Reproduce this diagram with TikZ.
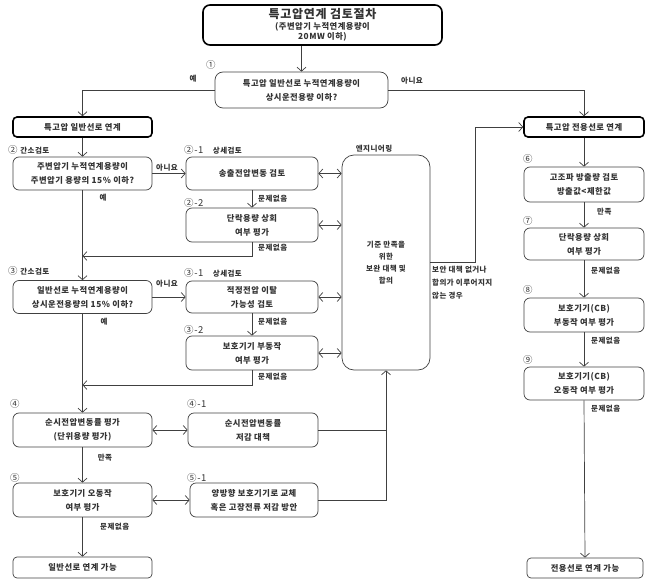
\documentclass[tikz,border=0pt]{standalone}
\usepackage{fontspec}
\setmainfont{Noto Sans CJK KR}[LetterSpace=6]
\usetikzlibrary{arrows.meta}
\begin{document}
\begin{tikzpicture}[x=1pt,y=-1pt,
 every node/.style={inner sep=0pt, text=black!80},
 box/.style={draw=black!75, line width=0.7pt, rounded corners=6pt, align=center, font=\fontsize{8.3}{14}\selectfont\bfseries},
 tbox/.style={box, draw=black, line width=1.6pt},
 lbl/.style={font=\fontsize{7.5}{9}\selectfont\bfseries},
 lbll/.style={lbl, anchor=west},
 num/.style={font=\fontsize{9.5}{10}\selectfont, anchor=west},
 conn/.style={draw=black!75, line width=0.7pt},
 arr/.style={conn, -{Straight Barb[length=4pt,width=9pt]}},
 darr/.style={conn, {Straight Barb[length=4pt,width=9pt]}-{Straight Barb[length=4pt,width=9pt]}},
]
\useasboundingbox (0,0) rectangle (650,580);

% nodes
\node[tbox, minimum width=239pt, minimum height=40pt, rounded corners=7pt, font=\fontsize{8.3}{10}\selectfont\bfseries] (title) at (322.5,25)
  {{\fontsize{12}{14}\selectfont 특고압연계 검토절차}\\[1pt](주변압기 누적연계용량이\\20MW 이하)};
\node[box, minimum width=173pt, minimum height=36pt, rounded corners=8pt] (d1) at (301.5,90) {특고압 일반선로 누적연계용량이\\상시운전용량 이하?};
\node[tbox, minimum width=139pt, minimum height=20pt, rounded corners=4pt] (gen) at (82.5,127) {특고압 일반선로 연계};
\node[tbox, minimum width=120pt, minimum height=20pt, rounded corners=4pt] (ded) at (584,127) {특고압 전용선로 연계};

\node[box, minimum width=139pt, minimum height=33pt] (b2) at (82.5,173.5) {주변압기 누적연계용량이\\주변압기 용량의 15\% 이하?};
\node[box, minimum width=132pt, minimum height=33pt] (b21) at (252,173.5) {송출전압변동 검토};
\node[box, minimum width=132pt, minimum height=34pt] (b22) at (252,225) {단락용량 상회\\여부 평가};

\node[box, minimum width=88pt, minimum height=215pt, rounded corners=12pt, font=\fontsize{7.5}{12}\selectfont\bfseries] (eng) at (386,262.5) {기준 만족을\\위한\\보완 대책 및\\합의};

\node[box, minimum width=139pt, minimum height=33pt] (b3) at (82.5,297) {일반선로 누적연계용량이\\상시운전용량의 15\% 이하?};
\node[box, minimum width=132pt, minimum height=32pt] (b31) at (252,297) {적정전압 이탈\\가능성 검토};
\node[box, minimum width=132pt, minimum height=34pt] (b32) at (252,353) {보호기기 부동작\\여부 평가};

\node[box, minimum width=139pt, minimum height=34pt] (b4) at (82.5,430) {순시전압변동률 평가\\(단위용량 평가)};
\node[box, minimum width=130pt, minimum height=34pt] (b41) at (253,430) {순시전압변동률\\저감 대책};
\node[box, minimum width=139pt, minimum height=34pt] (b5) at (82.5,500) {보호기기 오동작\\여부 평가};
\node[box, minimum width=128pt, minimum height=34pt] (b51) at (254,500) {양방향 보호기기로 교체\\혹은 고장전류 저감 방안};
\node[box, minimum width=139pt, minimum height=21pt, rounded corners=4pt] (endL) at (82.5,567.5) {일반선로 연계 가능};

\node[box, minimum width=120pt, minimum height=35pt] (b6) at (584,184.5) {고조파 방출량 검토\\방출값<제한값};
\node[box, minimum width=120pt, minimum height=32pt] (b7) at (584,244) {단락용량 상회\\여부 평가};
\node[box, minimum width=120pt, minimum height=34pt] (b8) at (584,315) {보호기기(CB)\\부동작 여부 평가};
\node[box, minimum width=120pt, minimum height=33pt] (b9) at (584,383.5) {보호기기(CB)\\오동작 여부 평가};
\node[box, minimum width=116pt, minimum height=20pt, rounded corners=4pt] (endR) at (585,568) {전용선로 연계 가능};

% number / header labels
\node[num] (n1) at (206,65) {①};
\node[num] (n2) at (8,150) {② {\fontsize{7.5}{9}\selectfont\bfseries 간소검토}};
\node[num] (n21) at (184,150) {②-1\quad{\fontsize{7.5}{9}\selectfont\bfseries 상세검토}};
\node[num] (n22) at (184,203) {②-2};
\node[num] (n3) at (8,271) {③ {\fontsize{7.5}{9}\selectfont\bfseries 간소검토}};
\node[num] (n31) at (184,273) {③-1\quad{\fontsize{7.5}{9}\selectfont\bfseries 상세검토}};
\node[num] (n32) at (184,330) {③-2};
\node[num] (n4) at (10,404) {④};
\node[num] (n41) at (187,404) {④-1};
\node[num] (n5) at (10,478) {⑤};
\node[num] (n51) at (187,478) {⑤-1};
\node[num] (n6) at (523,159) {⑥};
\node[num] (n7) at (523,221) {⑦};
\node[num] (n8) at (523,290) {⑧};
\node[num] (n9) at (523,360) {⑨};
\node[lbl] (englbl) at (374,149) {엔지니어링};

% connectors
\draw[arr] (d1.north |- title.south) -- (d1.north);
\draw[arr] (d1.west) -| (gen.north);
\node[lbl] (yes1) at (193,79) {예};
\draw[arr] (d1.east) -| (ded.north);
\node[lbl] (no1) at (412,81) {아니요};

\draw[arr] (gen.south) -- (b2.north);
\draw[arr] (b2.east) -- (b21.west);
\node[lbl] (no2) at (167,168) {아니요};
\node[lbl] (yes2) at (103,198) {예};
\draw[arr] (b21.south) -- (b22.north);
\node[lbll] (ok21) at (258,199) {문제없음};
\coordinate (m2) at (82.5,256);
\draw[arr] (b22.south) |- (m2);
\node[lbll] (ok22) at (258,248) {문제없음};
\draw[arr] (b2.south) -- (b3.north);

\draw[arr] (b3.east) -- (b31.west);
\node[lbl] (no3) at (167,284) {아니요};
\node[lbl] (yes3) at (104,322) {예};
\draw[arr] (b31.south) -- (b32.north);
\node[lbll] (ok31) at (258,322) {문제없음};
\coordinate (m3) at (82.5,385);
\draw[arr] (b32.south) |- (m3);
\node[lbll] (ok32) at (258,377) {문제없음};
\draw[arr] (b3.south) -- (b4.north);

\draw[darr] (b21.east) -- (b21.east -| eng.west);
\draw[darr] (b22.east) -- (b22.east -| eng.west);
\draw[darr] (b31.east) -- (b31.east -| eng.west);
\draw[darr] (b32.east) -- (b32.east -| eng.west);

\draw[darr] (b4.east) -- (b41.west);
\draw[arr] (b4.south) -- (b5.north);
\node[lbl] (ok4) at (105,458) {만족};
\draw[darr] (b5.east) -- (b51.west);
\draw[arr] (b5.south) -- (endL.north);
\node[lbll] (ok5) at (100,527) {문제없음};

\coordinate (j) at (eng.south |- b51.east);
\draw[arr] (b51.east) -- (j) -- (eng.south);
\draw[conn] (b41.east) -- (b41.east -| j);

\coordinate (k) at (475,262.5);
\draw[arr] (eng.east) -- (k) |- (ded.west);
\node[lbll, align=left, font=\fontsize{7.5}{13}\selectfont\bfseries] (fail) at (432,283) {보안 대책 없거나\\합의가 이루어지지\\않는 경우};

\draw[arr] (ded.south) -- (b6.north);
\draw[arr] (b6.south) -- (b7.north);
\node[lbll] (ok6) at (597,212) {만족};
\draw[arr] (b7.south) -- (b8.north);
\node[lbll] (ok7) at (591,271) {문제없음};
\draw[arr] (b8.south) -- (b9.north);
\node[lbll] (ok8) at (591,341) {문제없음};
\draw[arr] (b9.south) -- (endR.north);
\node[lbll] (ok9) at (591,409) {문제없음};
\end{tikzpicture}
\end{document}
